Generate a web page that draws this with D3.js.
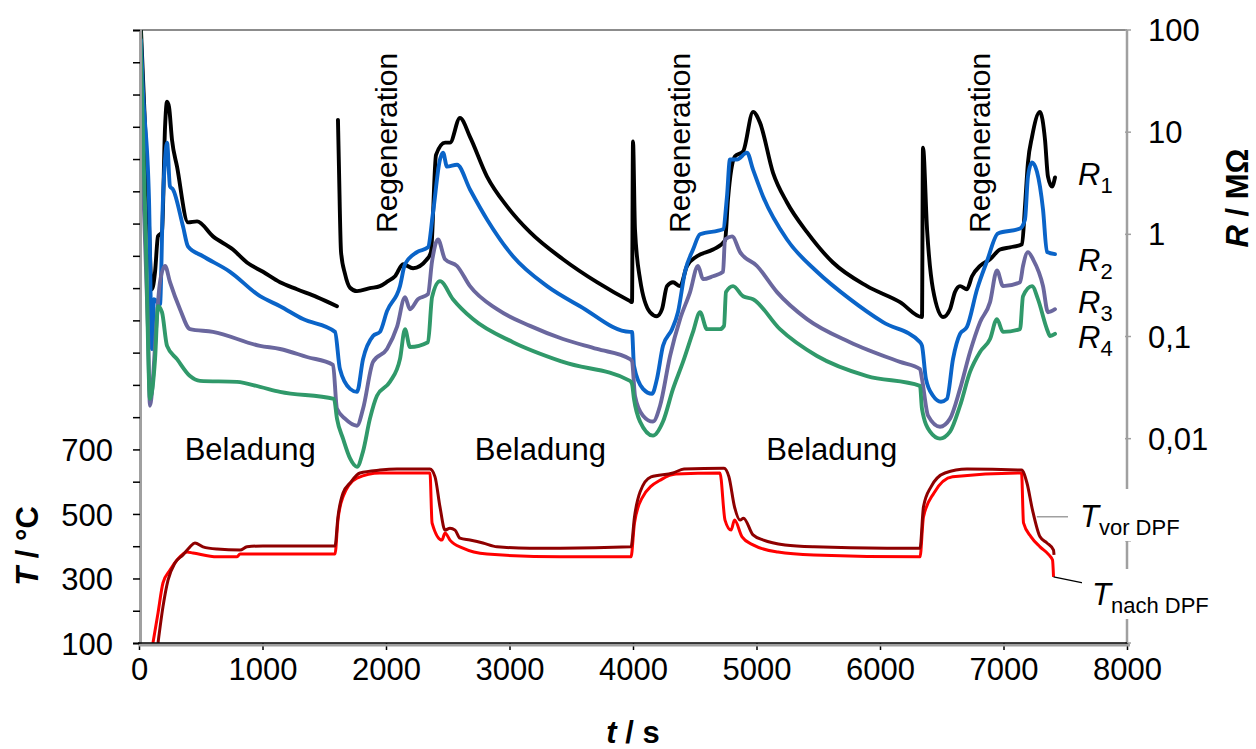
<!DOCTYPE html>
<html><head><meta charset="utf-8">
<script src="https://cdn.jsdelivr.net/npm/d3@7/dist/d3.min.js"></script>
<style>
html,body{margin:0;padding:0;background:#fff;}
svg{display:block;font-family:"Liberation Sans",Arial,sans-serif;}
</style></head>
<body>
<svg id="c" width="1256" height="749"></svg>
<script>
// ---- data: time in s, resistance in MOhm, temperature in °C ----
const R1 = [[16,100],[73,2.35],[105,0.29],[130,0.43],[154,0.96],[186,1.05],[211,11.3],[227,19.9],[243,17.7],[267,8.45],[308,4.6],[397,1.31],[470,1.34],[599,0.955],[761,0.71],[874,0.53],[1004,0.43],[1142,0.34],[1279,0.29],[1441,0.243],[1603,0.198],[1606,null],
 [1611,13.2],[1619,4.6],[1636,0.67],[1668,0.41],[1709,0.30],[1765,0.278],[1870,0.297],[1951,0.311],[2016,0.348],[2073,0.389],[2138,0.51],[2219,0.466],[2332,0.57],[2364,0.67],[2405,6.0],[2478,7.9],[2518,7.9],[2599,13.8],[2680,9.0],[2818,3.68],[2980,1.88],[3166,1.05],[3433,0.57],[3708,0.34],[3976,0.222],
 [3992,0.217],[4000,8.1],[4016,1.12],[4057,0.364],[4138,0.173],[4194,0.158],[4235,0.185],[4275,0.311],[4324,0.34],[4381,0.311],[4437,0.49],[4518,0.61],[4648,0.71],[4745,0.87],[4769,2.2],[4826,5.8],[4891,6.45],[4972,15.8],[5028,12.4],[5134,4.0],[5247,2.05],[5409,1.05],[5619,0.53],[5895,0.311],[6162,0.217],[6340,0.155],
 [6348,7.06],[6381,1.12],[6429,0.29],[6510,0.155],[6567,0.185],[6607,0.272],[6648,0.311],[6704,0.29],[6745,0.389],[6810,0.49],[6891,0.57],[6972,0.71],[7053,0.746],[7150,0.80],[7174,1.88],[7198,5.04],[7231,9.0],[7295,15.8],[7336,8.45],[7360,3.68],[7393,2.94],[7417,3.6]];
const R2 = [[16,80],[32,26],[81,2.2],[105,0.0755],[121,0.232],[170,0.207],[194,2.2],[211,5.4],[227,7.9],[251,2.94],[275,2.75],[356,1.2],[397,0.76],[518,0.61],[737,0.43],[980,0.248],[1142,0.198],[1328,0.148],[1587,0.111],
 [1627,0.048],[1709,0.0307],[1765,0.0287],[1814,0.060],[1895,0.101],[1951,0.111],[2008,0.177],[2113,0.311],[2154,0.51],[2251,0.67],[2340,0.746],[2381,1.64],[2437,5.4],[2462,6.3],[2494,4.6],[2575,4.8],[2680,2.75],[2818,1.4],[3028,0.61],[3304,0.311],[3571,0.198],[3976,0.111],
 [3992,0.111],[4008,0.0515],[4081,0.0307],[4154,0.0275],[4194,0.0385],[4243,0.081],[4316,0.118],[4364,0.173],[4421,0.43],[4486,0.71],[4543,1.0],[4729,1.12],[4761,2.35],[4785,5.4],[4842,5.4],[4923,6.3],[4972,4.3],[5053,2.35],[5247,0.89],[5490,0.43],[5757,0.232],[6024,0.138],[6324,0.088],
 [6340,0.081],[6372,0.0385],[6429,0.0263],[6494,0.023],[6542,0.0245],[6591,0.06],[6648,0.106],[6704,0.124],[6786,0.29],[6866,0.545],[6955,1.02],[7134,1.14],[7174,1.4],[7198,3.68],[7231,5.04],[7271,4.1],[7320,1.75],[7352,0.67],[7417,0.64]];
const R3 = [[24,6.7],[73,0.118],[89,0.021],[113,0.0385],[138,0.118],[170,0.34],[211,0.49],[251,0.34],[332,0.185],[413,0.118],[599,0.111],[980,0.081],[1142,0.0755],[1360,0.063],[1571,0.0527],
 [1603,0.0196],[1668,0.0157],[1765,0.0134],[1814,0.0196],[1895,0.0564],[2008,0.0755],[2089,0.124],[2154,0.243],[2194,0.185],[2259,0.232],[2340,0.26],[2373,0.545],[2421,0.89],[2478,0.57],[2575,0.49],[2680,0.311],[2899,0.185],[3166,0.127],[3433,0.0945],[3708,0.0755],[3976,0.060],
 [3992,0.0575],[4016,0.0263],[4081,0.0168],[4162,0.0147],[4219,0.021],[4300,0.0645],[4381,0.148],[4462,0.272],[4526,0.49],[4567,0.364],[4648,0.389],[4729,0.43],[4745,0.89],[4802,0.955],[4867,0.67],[5004,0.49],[5166,0.272],[5409,0.148],[5757,0.088],[6162,0.0564],[6324,0.048],
 [6340,0.0385],[6389,0.0168],[6486,0.0131],[6567,0.0157],[6648,0.0307],[6729,0.0706],[6810,0.138],[6891,0.217],[6947,0.444],[6996,0.311],[7134,0.34],[7158,0.49],[7198,0.67],[7239,0.57],[7320,0.311],[7360,0.173],[7417,0.185]];
const R4 = [[8,125],[57,0.71],[89,0.0245],[130,0.06],[154,0.198],[186,0.173],[227,0.081],[308,0.06],[413,0.041],[494,0.0368],[794,0.036],[980,0.0321],[1142,0.0287],[1579,0.0245],
 [1603,0.0157],[1652,0.01],[1709,0.0064],[1765,0.0053],[1814,0.0075],[1870,0.0157],[1927,0.0263],[2032,0.036],[2113,0.06],[2154,0.118],[2194,0.079],[2340,0.088],[2373,0.243],[2437,0.348],[2542,0.232],[2704,0.148],[3028,0.088],[3433,0.0564],[3976,0.0368],
 [3992,0.0344],[4008,0.0245],[4057,0.0147],[4162,0.0107],[4243,0.0147],[4324,0.0307],[4405,0.0564],[4486,0.111],[4543,0.173],[4599,0.118],[4704,0.118],[4737,0.127],[4753,0.272],[4810,0.311],[4891,0.248],[4972,0.232],[5190,0.118],[5490,0.0645],[5895,0.041],[6324,0.0329],
 [6340,0.0196],[6405,0.0117],[6486,0.01],[6567,0.0117],[6648,0.021],[6729,0.045],[6810,0.0706],[6891,0.0945],[6947,0.148],[6996,0.111],[7134,0.118],[7158,0.248],[7231,0.311],[7279,0.232],[7352,0.118],[7377,0.101],[7417,0.106]];
const Tvor = [[154,100],[194,212],[235,295],[291,348],[356,373],[413,398],[453,410],[518,398],[632,391],[818,388],[874,398],[1004,401],[1587,401],[1611,491],[1652,565],[1709,596],[1789,627],[1951,636],[2089,639],[2356,639],[2397,615],[2437,522],[2478,450],[2518,456],[2559,450],[2599,425],[2680,419],[2785,410],[2899,398],[3166,394],[3409,394],[3984,398],
 [4012,491],[4057,568],[4146,615],[4324,627],[4413,639],[4737,642],[4777,615],[4822,522],[4867,481],[4895,487],[4972,435],[5057,419],[5231,404],[5465,398],[6057,394],[6324,394],
 [6352,522],[6413,584],[6526,627],[6704,639],[7146,636],[7190,596],[7235,512],[7296,429],[7352,410],[7405,388],[7409,373]];
const Tnach = [[113,100],[154,193],[194,286],[251,326],[308,357],[389,382],[437,379],[632,367],[794,367],[818,376],[1587,376],[1611,481],[1652,553],[1765,611],[1951,627],[2356,627],[2373,472],[2453,419],[2478,441],[2518,419],[2623,394],[2818,376],[3409,367],[3984,367],
 [4012,472],[4073,549],[4235,608],[4348,624],[4704,627],[4745,481],[4794,450],[4822,481],[4883,429],[4972,404],[5174,382],[5465,373],[6324,367],
 [6352,491],[6437,565],[6588,615],[7146,627],[7162,472],[7223,429],[7296,398],[7368,373],[7397,357],[7405,305]];

const tTicks = [0,1000,2000,3000,4000,5000,6000,7000,8000];
const TTicks = d3.range(100, 2001, 100);
const TLabels = [100,300,500,700];
const RTicks = [0.0001,0.001,0.01,0.1,1,10,100];
const RLabels = {100:"100",10:"10",1:"1",0.1:"0,1",0.01:"0,01"};
const phaseLabels = [{t:900,text:"Beladung"},{t:3250,text:"Beladung"},{t:5610,text:"Beladung"}];
const regenLabels = [2090,4460,6890];
const seriesLabels = [{n:"1",v:3.9},{n:"2",v:0.56},{n:"3",v:0.22},{n:"4",v:0.098}];

// ---- scales ----
const L=139,Rr=1127,T0=30,B=643;
const x = d3.scaleLinear([0,8000],[L,Rr]);
const yT = d3.scaleLinear([100,2000],[B,T0]);
const yR = d3.scaleLog([1e-4,100],[B,T0]);
const svg = d3.select("#c");
const F = '"Liberation Sans",Arial,sans-serif';

svg.append("defs").append("clipPath").attr("id","clip")
  .append("rect").attr("x",L).attr("y",T0).attr("width",Rr-L).attr("height",B-T0);

// frame
svg.append("line").attr("x1",L).attr("x2",Rr).attr("y1",T0).attr("y2",T0).attr("stroke","#8c8c8c").attr("stroke-width",2);

// lines
const g = svg.append("g").attr("clip-path","url(#clip)");
const lineT = d3.line().defined(d=>d[1]!=null).curve(d3.curveMonotoneX).x(d=>x(d[0])).y(d=>yT(d[1]));
const lineR = d3.line().defined(d=>d[1]!=null).curve(d3.curveMonotoneX).x(d=>x(d[0])).y(d=>yR(d[1]));
g.append("path").datum(Tnach).attr("d",lineT).attr("fill","none").attr("stroke","#ff0000").attr("stroke-width",3).attr("stroke-linejoin","round");
g.append("path").datum(Tvor).attr("d",lineT).attr("fill","none").attr("stroke","#8e0000").attr("stroke-width",3).attr("stroke-linejoin","round");
[[R1,"#000000"],[R2,"#0a64c8"],[R3,"#6a679e"],[R4,"#30996a"]].forEach(([d,c])=>{
  g.append("path").datum(d).attr("d",lineR).attr("fill","none").attr("stroke",c).attr("stroke-width",3.9).attr("stroke-linejoin","round").attr("stroke-linecap","round");
});

// left axis
const axL = d3.axisLeft(yT).tickValues(TTicks).tickSize(7).tickFormat(d=>TLabels.includes(d)?d:"");
const gl = svg.append("g").attr("transform",`translate(${L+1},0)`).call(axL);
gl.select(".domain").attr("stroke","#a0a0a0").attr("stroke-width",3);
gl.selectAll(".tick line").attr("stroke","#000").attr("stroke-width",1.5);
gl.selectAll(".tick text").attr("font-size",31).attr("font-family",F).attr("fill","#000").attr("x",-27).attr("dy","0.36em");

// right axis
const gr = svg.append("g").attr("transform",`translate(${Rr},0)`);
gr.append("line").attr("y1",T0).attr("y2",B).attr("stroke","#a0a0a0").attr("stroke-width",2.5);
gr.selectAll("line.t").data(RTicks).join("line").attr("class","t").attr("x1",-2).attr("x2",4).attr("y1",d=>yR(d)).attr("y2",d=>yR(d)).attr("stroke","#a0a0a0").attr("stroke-width",1.5);
gr.selectAll("text").data(RTicks.filter(d=>RLabels[d])).join("text").attr("x",21).attr("y",d=>yR(d)).attr("dy","0.36em")
  .attr("font-size",31).attr("fill","#000").text(d=>RLabels[d]);

// bottom axis
const axB = d3.axisBottom(x).tickValues(tTicks).tickSize(7).tickFormat(d3.format("d"));
const gb = svg.append("g").attr("transform",`translate(0,${B})`).call(axB);
gb.select(".domain").remove();
gb.append("line").attr("x1",L).attr("x2",Rr+3).attr("y1",2).attr("y2",2).attr("stroke","#a0a0a0").attr("stroke-width",3);
gb.append("line").attr("x1",L-1).attr("x2",Rr).attr("y1",0).attr("y2",0).attr("stroke","#000").attr("stroke-width",1.5);
gb.selectAll(".tick line").attr("stroke","#000").attr("stroke-width",1.5);
gb.selectAll(".tick text").attr("font-size",31).attr("font-family",F).attr("fill","#000").attr("y",15);

// axis titles
const tl = svg.append("text").attr("transform","translate(38,546) rotate(-90)").attr("text-anchor","middle").attr("font-size",31).attr("font-weight","bold");
tl.append("tspan").attr("font-style","italic").text("T");
tl.append("tspan").text(" / °C");
const trr = svg.append("text").attr("transform","translate(1248,198) rotate(-90)").attr("text-anchor","middle").attr("font-size",31).attr("font-weight","bold");
trr.append("tspan").attr("font-style","italic").text("R");
trr.append("tspan").text(" / MΩ");
const tb = svg.append("text").attr("x",(L+Rr)/2).attr("y",743).attr("text-anchor","middle").attr("font-size",31).attr("font-weight","bold");
tb.append("tspan").attr("font-style","italic").text("t");
tb.append("tspan").text(" / s");

// phase annotations
svg.selectAll("text.bel").data(phaseLabels).join("text").attr("class","bel")
  .attr("x",d=>x(d.t)).attr("y",460).attr("text-anchor","middle").attr("font-size",31).text(d=>d.text);
svg.selectAll("text.reg").data(regenLabels).join("text").attr("class","reg")
  .attr("transform",d=>`translate(${x(d)},233) rotate(-90)`).attr("font-size",30).text("Regeneration");

// series labels
seriesLabels.forEach(s=>{
  const t = svg.append("text").attr("x",1078).attr("y",yR(s.v)+11).attr("font-size",31);
  t.append("tspan").attr("font-style","italic").text("R");
  t.append("tspan").attr("font-size",22).attr("dy",8).text(s.n);
});

// temperature labels with pointers
svg.append("line").attr("x1",x(7270)).attr("x2",x(7720)).attr("y1",yT(491)).attr("y2",yT(491)).attr("stroke","#a0a0a0").attr("stroke-width",1.5);
svg.append("line").attr("x1",x(7405)).attr("x2",x(7790)).attr("y1",yT(305)).attr("y2",yT(275)).attr("stroke","#000").attr("stroke-width",1.2);
svg.append("rect").attr("x",1068).attr("y",489).attr("width",115).attr("height",52).attr("fill","#fff");
svg.append("rect").attr("x",1082).attr("y",569).attr("width",128).attr("height",50).attr("fill","#fff");
const tv = svg.append("text").attr("x",1080).attr("y",527).attr("font-size",31);
tv.append("tspan").attr("font-style","italic").text("T");
tv.append("tspan").attr("font-size",22).attr("dy",8).text("vor DPF");
const tn = svg.append("text").attr("x",1092).attr("y",605).attr("font-size",31);
tn.append("tspan").attr("font-style","italic").text("T");
tn.append("tspan").attr("font-size",22).attr("dy",8).text("nach DPF");
</script>
</body></html>
